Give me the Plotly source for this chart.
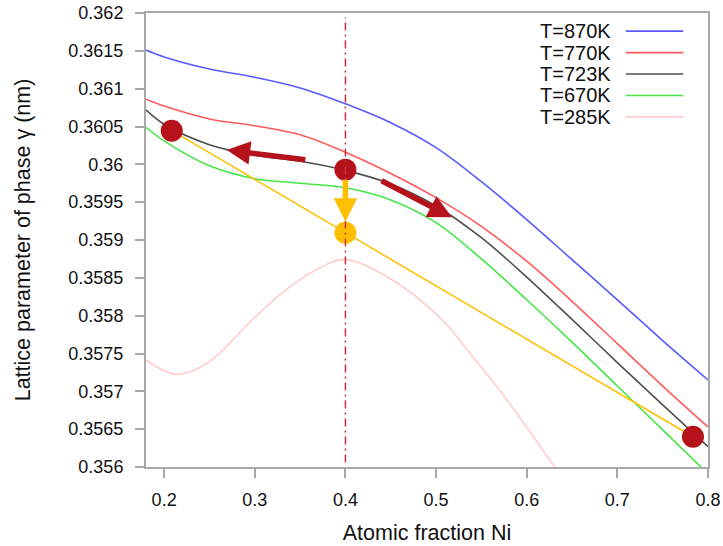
import plotly.graph_objects as go

# ---------------- data ----------------
x_ni = [0.18, 0.2, 0.25, 0.3, 0.35, 0.4, 0.45, 0.5, 0.55, 0.6, 0.65, 0.7, 0.75, 0.8]
a_870 = [0.36151, 0.36142, 0.36126, 0.36115, 0.36101, 0.36080, 0.36055, 0.36022,
         0.35977, 0.35927, 0.35874, 0.35821, 0.35767, 0.35715]
a_770 = [0.36086, 0.36077, 0.36060, 0.36051, 0.36039, 0.36016, 0.35988, 0.35956,
         0.35918, 0.35872, 0.35819, 0.35763, 0.35707, 0.35653]
a_723 = [0.36072, 0.36053, 0.36026, 0.36012, 0.36004, 0.35992, 0.35974, 0.35945,
         0.35903, 0.35851, 0.35795, 0.35738, 0.35682, 0.35627]
a_670 = [0.36049, 0.36031, 0.35998, 0.35981, 0.35975, 0.35969, 0.35953, 0.35923,
         0.35875, 0.35821, 0.35765, 0.35707, 0.35649, 0.35591]
x_285 = [0.18, 0.212, 0.235, 0.258, 0.295, 0.332, 0.368, 0.399, 0.446, 0.505, 0.541, 0.578,
         0.631, 0.65]
a_285 = [0.357414, 0.357225, 0.357290, 0.357470, 0.357920, 0.358317, 0.358608, 0.358740,
         0.358515, 0.357966, 0.357450, 0.356890, 0.356000, 0.355690]

series_names = ["T=870K", "T=770K", "T=723K", "T=670K", "T=285K"]
series_colors = ["#5a5aff", "#ff5a5a", "#505050", "#46e646", "#ffcccc"]

# tie line end points (phase compositions at 723 K) and alloy point
tie_x = [0.2084, 0.7834]
tie_y = [0.360445, 0.356400]
alloy_x = [0.4]
alloy_y = [0.35993]
quench_x = [0.4]
quench_y = [0.359096]

# arrows: (tail_x, tail_y, tip_x, tip_y)
arrow_left = (0.3574, 0.360057, 0.2691, 0.360189)
arrow_right = (0.4383, 0.359793, 0.5174, 0.359300)
arrow_down = (0.4, 0.359815, 0.4, 0.359242)

x_ticks = [0.2, 0.3, 0.4, 0.5, 0.6, 0.7, 0.8]
y_ticks = [0.356, 0.3565, 0.357, 0.3575, 0.358, 0.3585, 0.359, 0.3595, 0.36,
           0.3605, 0.361, 0.3615, 0.362]
y_tick_text = ["0.356", "0.3565", "0.357", "0.3575", "0.358", "0.3585", "0.359", "0.3595",
               "0.36", "0.3605", "0.361", "0.3615", "0.362"]

FONT = "Liberation Sans, Arial, Helvetica, sans-serif"
DARKRED = "#b5121b"
YELLOW = "#ffbf00"

fig = go.Figure()

curves = [(x_ni, a_870), (x_ni, a_770), (x_ni, a_723), (x_ni, a_670), (x_285, a_285)]
for (xs, ys), name, col in zip(curves, series_names, series_colors):
    fig.add_trace(go.Scatter(x=xs, y=ys, mode="lines", name=name,
                             line=dict(color=col, width=1.6, shape="spline", smoothing=1.0),
                             showlegend=False))

# vertical dash-dot line at alloy composition
fig.add_shape(type="line", xref="x", yref="paper", x0=alloy_x[0], x1=alloy_x[0], y0=0.01, y1=0.99,
              line=dict(color="#c8303c", width=1.5, dash="8px,4px,2px,4px"))

# tie line
fig.add_trace(go.Scatter(x=tie_x, y=tie_y, mode="lines", line=dict(color=YELLOW, width=1.5),
                         showlegend=False))

# arrows
for (tx, ty, hx, hy), col in [(arrow_left, DARKRED), (arrow_right, DARKRED), (arrow_down, YELLOW)]:
    fig.add_annotation(x=hx, y=hy, ax=tx, ay=ty, xref="x", yref="y", axref="x", ayref="y",
                       text="", showarrow=True, arrowhead=2, arrowsize=0.85, arrowwidth=5.5,
                       arrowcolor=col, standoff=0)

# markers
fig.add_trace(go.Scatter(x=tie_x, y=tie_y, mode="markers",
                         marker=dict(size=22, color=DARKRED, line=dict(width=0)), showlegend=False))
fig.add_trace(go.Scatter(x=alloy_x, y=alloy_y, mode="markers",
                         marker=dict(size=22, color=DARKRED, line=dict(width=0)), showlegend=False))
fig.add_trace(go.Scatter(x=quench_x, y=quench_y, mode="markers",
                         marker=dict(size=22, color=YELLOW, line=dict(width=0)), showlegend=False))

# custom legend (text right, sample line to the right, gnuplot style)
leg_y0 = 0.960
leg_dy = 0.0472
for i, (name, col) in enumerate(zip(series_names, series_colors)):
    yy = leg_y0 - i * leg_dy
    fig.add_annotation(x=0.831, y=yy, xref="paper", yref="paper", text=name, showarrow=False,
                       xanchor="right", yanchor="middle", font=dict(family=FONT, size=20, color="#111"))
    fig.add_shape(type="line", xref="paper", yref="paper", x0=0.854, x1=0.956, y0=yy, y1=yy,
                  line=dict(color=col, width=1.6))

axis_common = dict(showgrid=False, zeroline=False, showline=True, linecolor="#a8a8a8",
                   linewidth=2, mirror=True, ticks="outside", ticklen=9, tickwidth=1.5,
                   tickcolor="#a8a8a8", automargin=False, ticklabeloverflow="allow",
                   tickfont=dict(family=FONT, size=18, color="#111"))

fig.update_layout(
    width=723, height=546,
    margin=dict(l=146, r=15, t=13, b=79, autoexpand=False),
    paper_bgcolor="white", plot_bgcolor="white",
    showlegend=False,
    xaxis=dict(range=[0.18, 0.8], tickvals=x_ticks, ticktext=[str(v) for v in x_ticks],
               title=dict(text="Atomic fraction Ni", font=dict(family=FONT, size=21.5, color="#111"),
                          standoff=16),
               ticklabelstandoff=6, **axis_common),
    yaxis=dict(range=[0.356, 0.362], tickvals=y_ticks, ticktext=y_tick_text,
               title=dict(text="Lattice parameter of phase γ (nm)",
                          font=dict(family=FONT, size=21.5, color="#111"), standoff=32),
               ticklabelstandoff=8, **axis_common),
)

# remove the default 8px page margin so the figure fills the window exactly
fig.write_html("out.html", config={"displayModeBar": False},
               post_script="document.body.style.margin='0';document.body.style.overflow='hidden';")
